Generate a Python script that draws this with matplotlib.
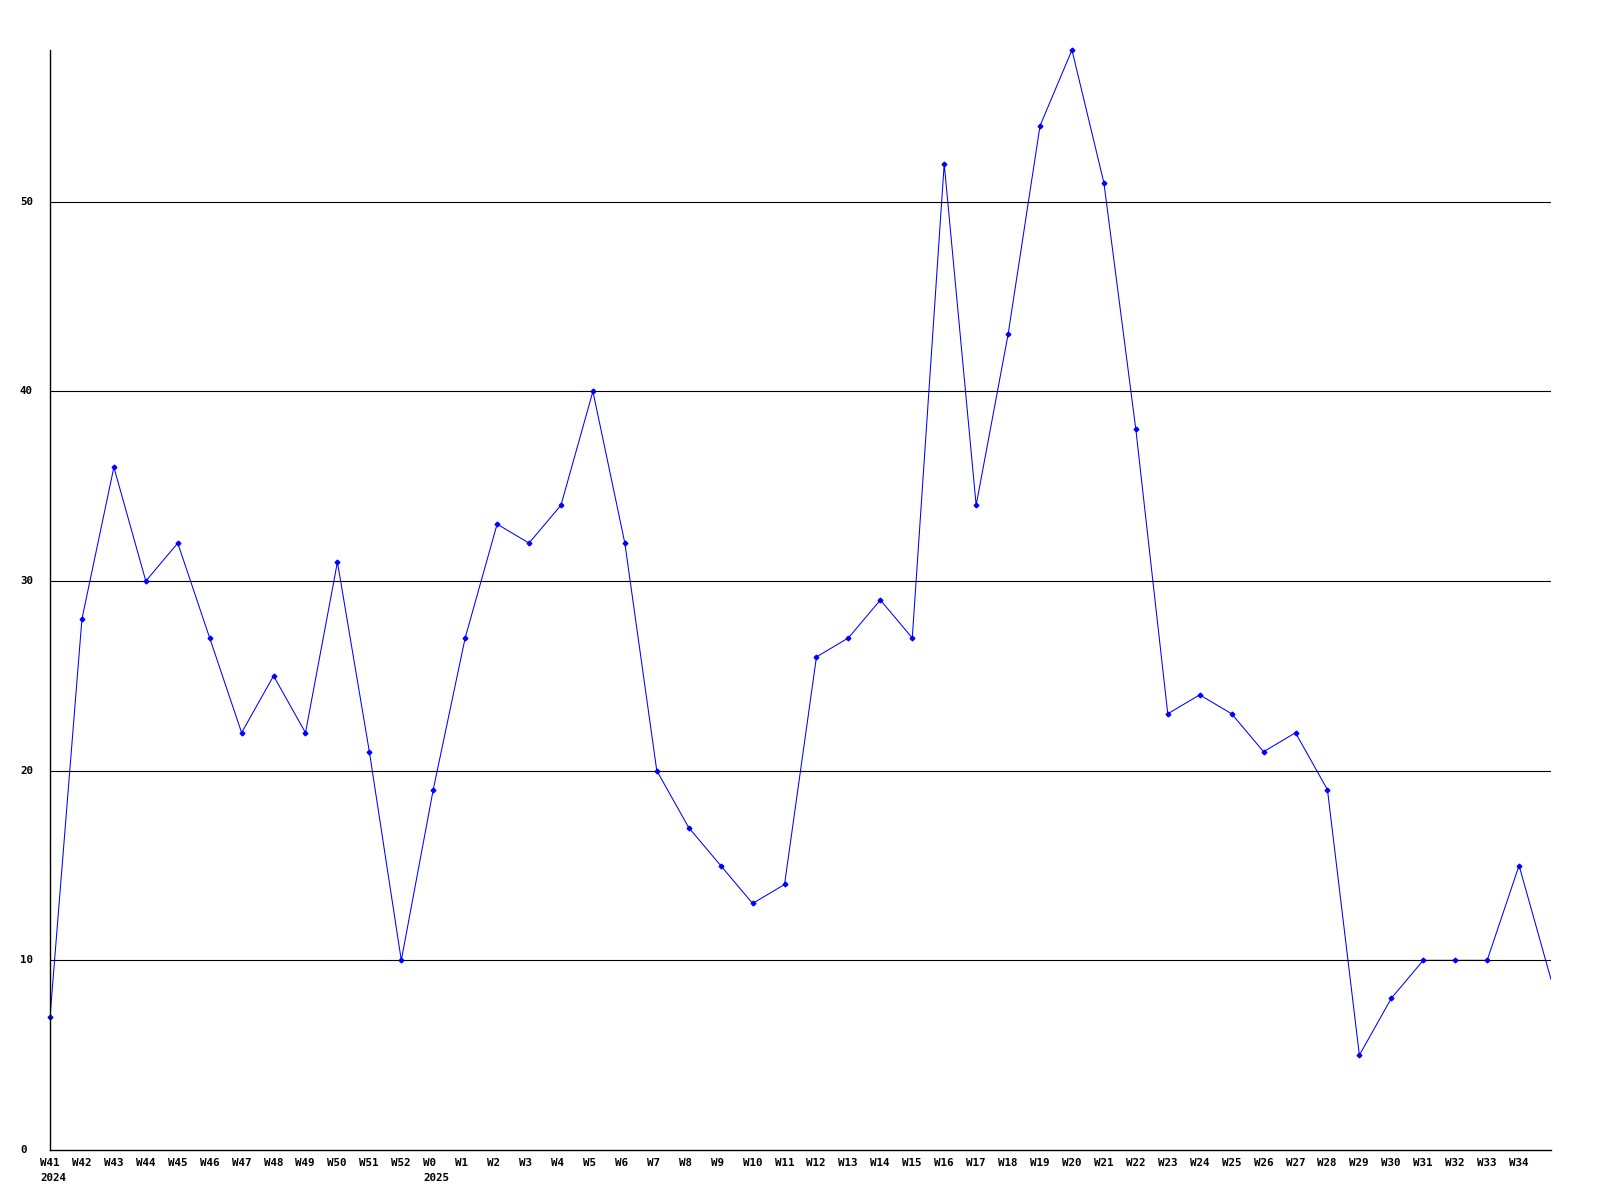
import matplotlib
matplotlib.use("Agg")
import matplotlib.pyplot as plt

weeks = ["W41", "W42", "W43", "W44", "W45", "W46", "W47", "W48", "W49", "W50", "W51", "W52",
         "W0", "W1", "W2", "W3", "W4", "W5", "W6", "W7", "W8", "W9", "W10", "W11", "W12",
         "W13", "W14", "W15", "W16", "W17", "W18", "W19", "W20", "W21", "W22", "W23", "W24",
         "W25", "W26", "W27", "W28", "W29", "W30", "W31", "W32", "W33", "W34", "W35"]
counts = [7, 28, 36, 30, 32, 27, 22, 25, 22, 31, 21, 10,
          19, 27, 33, 32, 34, 40, 32, 20, 17, 15, 13, 14, 26,
          27, 29, 27, 52, 34, 43, 54, 58, 51, 38, 23, 24,
          23, 21, 22, 19, 5, 8, 10, 10, 10, 15, 9]
years = {"W41": "2024", "W0": "2025"}
y_ticks = [0, 10, 20, 30, 40, 50]

FONT = dict(family="DejaVu Sans Mono", weight="bold", size=7.8)

fig = plt.figure(figsize=(16, 12), dpi=100)
ax = fig.add_axes([50 / 1600, 50 / 1200, 1501 / 1600, 1100 / 1200])

x = list(range(len(counts)))
ax.set_xlim(0, len(counts) - 1)
ax.set_ylim(0, 58)

# line under the grid, markers on top
ax.plot(x, counts, color="#0000ff", lw=0.75, zorder=1)
for v in y_ticks[1:]:
    ax.axhline(v, color="black", lw=0.8, zorder=2)
ax.plot(x[:-1], counts[:-1], color="#0000ff", lw=0, marker="D",
        markersize=2.4, zorder=3, clip_on=False)

for s in ["top", "right"]:
    ax.spines[s].set_visible(False)
for s in ["left", "bottom"]:
    ax.spines[s].set_linewidth(1.0)
    ax.spines[s].set_color("black")
    ax.spines[s].set_zorder(4)

ax.set_xticks([])
ax.set_yticks([])

# x labels, left aligned just left of each tick
for i, w in enumerate(weeks[:-1]):
    ax.annotate(w, xy=(i, 0), xycoords=("data", "axes fraction"),
                xytext=(-10, -8), textcoords="offset pixels",
                ha="left", va="top", **FONT)
    if w in years:
        ax.annotate(years[w], xy=(i, 0), xycoords=("data", "axes fraction"),
                    xytext=(-10, -23), textcoords="offset pixels",
                    ha="left", va="top", **FONT)

for v in y_ticks:
    ax.annotate(str(v), xy=(0, v), xycoords=("axes fraction", "data"),
                xytext=(-30, 0), textcoords="offset pixels",
                ha="left", va="center", **FONT)

fig.savefig("out.png", dpi=100)
